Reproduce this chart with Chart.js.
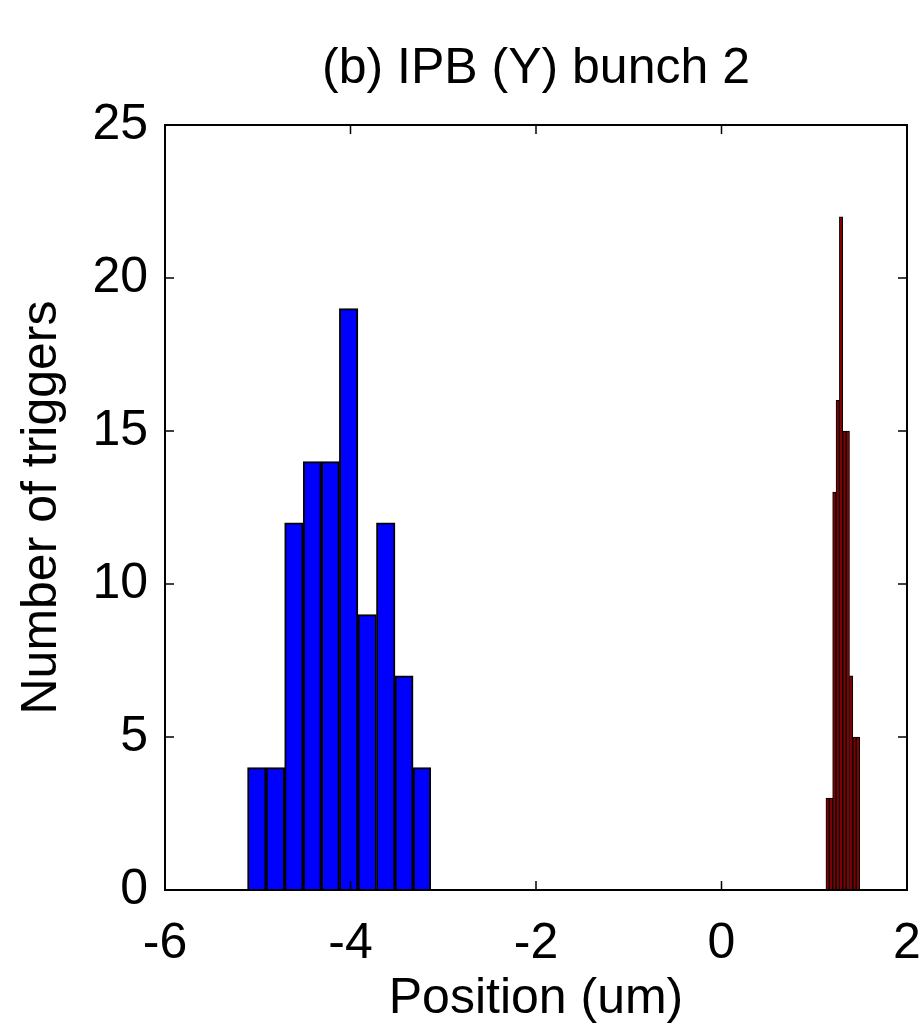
<!DOCTYPE html>
<html>
<head>
<meta charset="utf-8">
<script src="https://cdn.jsdelivr.net/npm/chart.js@4.4.1/dist/chart.umd.min.js"></script>
<style>
  html, body { margin: 0; padding: 0; background: #fff; }
  #wrap { position: relative; width: 923px; height: 1034px; }
</style>
</head>
<body>
<div id="wrap"><canvas id="chart"></canvas></div>
<script>
// Histogram bin centres (um) and counts
const blueCenters = [-5.01, -4.81, -4.61, -4.41, -4.22, -4.02, -3.82, -3.62, -3.42, -3.23];
const blueCounts = [4, 4, 12, 14, 14, 19, 9, 12, 7, 4];
const redCenters = [1.144, 1.180, 1.217, 1.253, 1.289, 1.326, 1.362, 1.398, 1.434, 1.471];
const redCounts = [3, 3, 13, 16, 22, 15, 15, 7, 5, 5];

const xTicks = [-6, -4, -2, 0, 2];
const yTicks = [0, 5, 10, 15, 20, 25];

const FONT = "'Liberation Sans', Arial, sans-serif";

const toPoints = (xs, ys) => xs.map((x, i) => ({ x, y: ys[i] }));

// MATLAB-style box with inward tick marks on all four sides
const frameTicks = {
  id: "frameTicks",
  afterDatasetsDraw(chart) {
    const { ctx, chartArea: a, scales } = chart;
    const len = 9;
    ctx.save();
    ctx.strokeStyle = "#000";
    ctx.lineWidth = 1.5;
    ctx.beginPath();
    for (const v of xTicks) {
      const px = scales.x.getPixelForValue(v);
      ctx.moveTo(px, a.bottom);
      ctx.lineTo(px, a.bottom - len);
      ctx.moveTo(px, a.top);
      ctx.lineTo(px, a.top + len);
    }
    for (const v of yTicks) {
      const py = scales.y.getPixelForValue(v);
      ctx.moveTo(a.left, py);
      ctx.lineTo(a.left + len, py);
      ctx.moveTo(a.right, py);
      ctx.lineTo(a.right - len, py);
    }
    ctx.stroke();
    ctx.lineWidth = 2;
    ctx.strokeRect(a.left, a.top, a.right - a.left, a.bottom - a.top);
    ctx.restore();
  },
};

// both histograms share one stack slot so the flex bars keep full bin width
const histStyle = {
  borderColor: "#000",
  barThickness: "flex",
  categoryPercentage: 1,
  barPercentage: 1,
  stack: "hist",
};

new Chart(document.getElementById("chart"), {
  type: "bar",
  data: {
    datasets: [
      {
        ...histStyle,
        data: toPoints(blueCenters, blueCounts),
        backgroundColor: "#0000ff",
        borderWidth: 2,
      },
      {
        ...histStyle,
        data: toPoints(redCenters, redCounts),
        backgroundColor: "#800000",
        borderWidth: 1,
      },
    ],
  },
  options: {
    responsive: true,
    maintainAspectRatio: false,
    animation: false,
    devicePixelRatio: 1,
    layout: { padding: { left: 0, right: 16, top: 0, bottom: 0 } },
    plugins: {
      legend: { display: false },
      tooltip: { enabled: false },
      title: {
        display: true,
        fullSize: false,
        text: "(b) IPB (Y) bunch 2",
        color: "#000",
        font: { family: FONT, size: 50, weight: "normal" },
        padding: { top: 39, bottom: 26 },
      },
    },
    scales: {
      x: {
        type: "linear",
        min: -6,
        max: 2,
        offset: false,
        grid: { display: false, offset: false },
        border: { display: false },
        afterBuildTicks: (scale) => {
          scale.ticks = xTicks.map((v) => ({ value: v }));
        },
        ticks: {
          color: "#000",
          padding: 16,
          maxRotation: 0,
          font: { family: FONT, size: 50 },
        },
        title: {
          display: true,
          text: "Position (um)",
          color: "#000",
          font: { family: FONT, size: 50 },
          padding: { top: 0, bottom: 5 },
        },
        afterFit: (scale) => {
          scale.height = 144;
          scale.paddingRight = 0;
        },
      },
      y: {
        min: 0,
        max: 25,
        grid: { display: false },
        border: { display: false },
        afterBuildTicks: (scale) => {
          scale.ticks = yTicks.map((v) => ({ value: v }));
        },
        ticks: {
          color: "#000",
          padding: 9,
          font: { family: FONT, size: 50 },
        },
        title: {
          display: true,
          text: "Number of triggers",
          color: "#000",
          font: { family: FONT, size: 50 },
          padding: { top: 12, bottom: 0 },
        },
        afterFit: (scale) => {
          scale.width = 165;
        },
      },
    },
  },
  plugins: [frameTicks],
});
</script>
</body>
</html>
